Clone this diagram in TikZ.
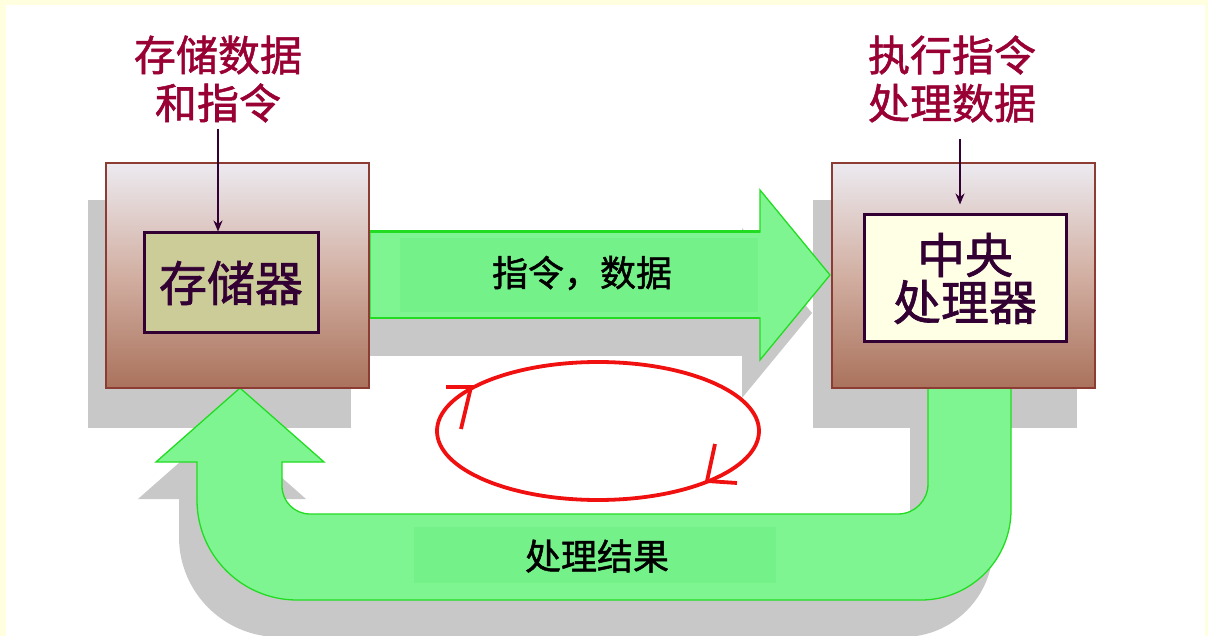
\documentclass[tikz,border=0pt]{standalone}
\usepackage{fontspec}
\newfontfamily\cjk[FakeBold=1.3]{Noto Sans CJK SC}
\usetikzlibrary{arrows.meta}
\definecolor{bgyellow}{RGB}{255,255,224}
\definecolor{shadowgrey}{RGB}{200,200,200}
\definecolor{greenfill}{RGB}{126,245,144}
\definecolor{greentext}{RGB}{117,241,137}
\definecolor{greenedge}{RGB}{34,220,34}
\definecolor{boxtop}{RGB}{236,234,240}
\definecolor{boxmid}{RGB}{210,175,162}
\definecolor{boxbot}{RGB}{170,114,92}
\definecolor{boxedge}{RGB}{140,60,50}
\definecolor{khaki}{RGB}{204,204,153}
\definecolor{ivory}{RGB}{255,255,230}
\definecolor{darkplum}{RGB}{51,0,51}
\definecolor{crimsonlab}{RGB}{153,0,51}
\definecolor{loopred}{RGB}{240,16,16}
\tikzset{
  outerbox/.style={draw=boxedge, line width=1.2pt, top color=boxtop, bottom color=boxbot, middle color=boxmid, minimum width=263pt, minimum height=225pt, inner sep=0pt},
  innerbox/.style={draw=darkplum, line width=3pt, inner sep=0pt, text=darkplum, align=center, font={\cjk\fontsize{48}{47}\selectfont}},
  labeltext/.style={text=crimsonlab, align=center, inner sep=0pt, font={\cjk\fontsize{42}{48}\selectfont}},
  arrowtext/.style={text=black, inner sep=0pt, font={\cjk\fontsize{36}{40}\selectfont}},
  plumarrow/.style={draw=darkplum, line width=2pt, -{Stealth[length=11pt,width=9pt]}},
  loopline/.style={draw=loopred, line width=3.8pt},
  greenshape/.style={fill=greenfill, draw=greenedge, line width=1.3pt},
  shadowfill/.style={fill=shadowgrey}
}
\begin{document}
\begin{tikzpicture}[x=1pt,y=-1pt]
\useasboundingbox (0,0) rectangle (1208,636);
\fill[bgyellow] (0,0) rectangle (1208,636);
\fill[white] (6,5) rectangle (1205,636);
\def\toparrow{(370,232) -- (760,232) -- (760,190) -- (830,275) -- (760,360) -- (760,318) -- (370,318) -- cycle}
\def\uarrow{(240,388) -- (324,462) -- (282,462) -- (282,486) .. controls (282,501.5) and (294.5,514) .. (310,514) -- (898,514) .. controls (914.6,514) and (928,500.6) .. (928,484) -- (928,388) -- (1011,388) -- (1011,510) .. controls (1011,559.7) and (970.7,600) .. (921,600) -- (297,600) .. controls (241.8,600) and (197,555.2) .. (197,500) -- (197,462) -- (156,462) -- cycle}
% shadows
\fill[shadowfill] (88,200) rectangle (351,428);
\fill[shadowfill] (813,200) rectangle (1077,428);
\fill[shadowfill,shift={(-18,38)}] \toparrow;
\fill[shadowfill,shift={(-18,37)}] \uarrow;
% green arrows
\path[greenshape] \toparrow;
\draw[greenedge,line width=3pt] (370,232) -- (760,232);
\draw[greenedge,line width=2.5pt] (370,318) -- (760,318);
\fill[greentext] (400,238) rectangle (758,312);
\path[greenshape] \uarrow;
\fill[greentext] (414,527) rectangle (776,583);
% boxes
\node[outerbox] (memory) at (237.5,275.5) {};
\node[outerbox] (cpu) at (963.5,275.5) {};
\node[innerbox, minimum width=174pt, minimum height=100pt, fill=khaki] (mem) at (231,283) {存储器};
\node[innerbox, minimum width=202pt, minimum height=127pt, fill=ivory] (proc) at (965,278.5) {中央\\处理器};
% labels
\node[labeltext] (memlab) at (218,79) {存储数据\\和指令};
\node[labeltext] (cpulab) at (952,79) {执行指令\\处理数据};
\draw[plumarrow, shorten <=6pt] (memlab.south) -- (memlab.south |- mem.north);
\draw[plumarrow, shorten <=16pt, shorten >=9pt] ([xshift=8pt]cpulab.south) -- ([xshift=8pt]cpulab.south |- proc.north);
% arrow texts
\node[arrowtext] (flowtxt) at (582,273) {指令，数据};
\node[arrowtext] (restxt) at (597,556) {处理结果};
% red loop
\draw[loopline] (598,431) ellipse [x radius=161, y radius=69];
\draw[loopline] (446,387) -- (471,387) -- (461,429);
\draw[loopline] (715,444) -- (707,481) -- (737,483);
\end{tikzpicture}
\end{document}
